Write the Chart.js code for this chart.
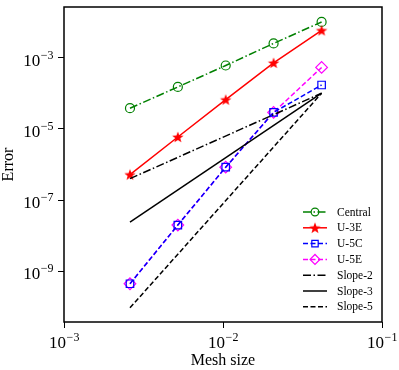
<!DOCTYPE html>
<html>
<head>
<meta charset="utf-8">
<script src="https://cdn.jsdelivr.net/npm/chart.js@4.4.0/dist/chart.umd.min.js"></script>
<style>
  html, body { margin: 0; padding: 0; background: #fff; }
</style>
</head>
<body>
<canvas id="errChart" width="399" height="370"></canvas>
<script>
// values
const meshSize   = [0.0026, 0.0052, 0.0104, 0.0208, 0.0417];
const centralErr = [3.8e-5, 1.5e-4, 6.0e-4, 2.5e-3, 1.0e-2];
const u3eErr     = [5.2e-7, 5.9e-6, 6.6e-5, 7.1e-4, 5.8e-3];
const u5cErr     = [4.5e-10, 2.0e-8, 8.4e-7, 2.9e-5, 1.7e-4];
const u5eErr     = [4.5e-10, 2.0e-8, 8.4e-7, 2.9e-5, 5.3e-4];
const slopeX     = [0.0026, 0.0417];
const slope2     = [4.0e-7, 1.0e-4];
const slope3     = [2.4e-8, 1.0e-4];
const slope5     = [9.5e-11, 1.0e-4];
const xTicks     = [1e-3, 1e-2, 1e-1];
const yTicks     = [1e-9, 1e-7, 1e-5, 1e-3];

const SERIF = '"Liberation Serif", "DejaVu Serif", serif';

// filled five point star marker (matplotlib '*')
function makeStar(color) {
  const c = document.createElement('canvas');
  c.width = 14; c.height = 14;
  const g = c.getContext('2d');
  g.beginPath();
  for (let i = 0; i < 10; i++) {
    const r = i % 2 === 0 ? 6 : 2.5;
    const a = -Math.PI / 2 + i * Math.PI / 5;
    const px = 7 + r * Math.cos(a), py = 7.5 + r * Math.sin(a);
    i === 0 ? g.moveTo(px, py) : g.lineTo(px, py);
  }
  g.closePath();
  g.fillStyle = color;
  g.fill();
  return c;
}
const starImg = makeStar('#ff0000');

const pts = (xs, ys) => xs.map((x, i) => ({ x: x, y: ys[i] }));

// z: higher is drawn on top
const series = [
  { label: 'Central', data: pts(meshSize, centralErr), color: '#008000', dash: [8, 2.5, 1.5, 2.5], marker: 'circle', r: 4.5, z: 1 },
  { label: 'U-3E',    data: pts(meshSize, u3eErr),     color: '#ff0000', dash: [],             marker: starImg,  r: 5,   z: 2 },
  { label: 'U-5C',    data: pts(meshSize, u5cErr),     color: '#0000ff', dash: [5, 2.5],       marker: 'rect',   r: 5.3, z: 4 },
  { label: 'U-5E',    data: pts(meshSize, u5eErr),     color: '#ff00ff', dash: [5, 2.5],       marker: 'rectRot', r: 5.8, z: 3 },
  { label: 'Slope-2', data: pts(slopeX, slope2),       color: '#000000', dash: [8, 2.5, 1.5, 2.5], marker: false, r: 0, z: 5 },
  { label: 'Slope-3', data: pts(slopeX, slope3),       color: '#000000', dash: [],             marker: false,    r: 0,   z: 6 },
  { label: 'Slope-5', data: pts(slopeX, slope5),       color: '#000000', dash: [5, 2.5],       marker: false,    r: 0,   z: 7 }
];

// draws 10^n tick labels, axis titles, frame and the legend
const decorPlugin = {
  id: 'decor',
  afterDraw(chart) {
    const ctx = chart.ctx;
    const area = chart.chartArea;
    const xs = chart.scales.x, ys = chart.scales.y;
    ctx.save();
    ctx.fillStyle = '#000';

    const label = (v) => {
      const exp = Math.round(Math.log10(v));
      return { base: '10', sup: (exp < 0 ? '\u2212' : '') + Math.abs(exp) };
    };
    const measure = (l) => {
      ctx.font = '17px ' + SERIF;
      const wb = ctx.measureText(l.base).width;
      ctx.font = '12px ' + SERIF;
      const ws = ctx.measureText(l.sup).width;
      return [wb, ws];
    };
    const drawLabel = (l, x0, baseY) => {
      const [wb] = measure(l);
      ctx.textAlign = 'left';
      ctx.textBaseline = 'alphabetic';
      ctx.font = '17px ' + SERIF;
      ctx.fillText(l.base, x0, baseY);
      ctx.font = '12px ' + SERIF;
      ctx.fillText(l.sup, x0 + wb + 0.5, baseY - 7);
    };

    xTicks.forEach(v => {
      const l = label(v);
      const [wb, ws] = measure(l);
      const px = xs.getPixelForValue(v);
      drawLabel(l, px - (wb + ws) / 2, area.bottom + 26);
    });
    yTicks.forEach(v => {
      const l = label(v);
      const [wb, ws] = measure(l);
      const py = ys.getPixelForValue(v);
      drawLabel(l, area.left - 11 - wb - ws, py + 8);
    });

    // axis titles
    ctx.font = '16px ' + SERIF;
    ctx.textAlign = 'center';
    ctx.textBaseline = 'alphabetic';
    ctx.fillText('Mesh size', (area.left + area.right) / 2, area.bottom + 43);
    ctx.save();
    ctx.translate(13, (area.top + area.bottom) / 2);
    ctx.rotate(-Math.PI / 2);
    ctx.fillText('Error', 0, 0);
    ctx.restore();

    // frame
    ctx.strokeStyle = '#000';
    ctx.lineWidth = 1.5;
    ctx.strokeRect(area.left, area.top, area.right - area.left, area.bottom - area.top);

    // legend
    const lx0 = area.right - 79, lx1 = area.right - 55, tx = area.right - 45;
    let ly = area.bottom - 110;
    series.forEach(s => {
      ctx.strokeStyle = s.color;
      ctx.lineWidth = 1.5;
      ctx.setLineDash(s.dash);
      ctx.beginPath();
      ctx.moveTo(lx0, ly);
      ctx.lineTo(lx1, ly);
      ctx.stroke();
      ctx.setLineDash([]);
      if (s.marker) {
        ctx.fillStyle = 'rgba(0,0,0,0)';
        ctx.strokeStyle = s.color;
        ctx.lineWidth = 1.2;
        Chart.helpers.drawPoint(ctx, {
          pointStyle: s.marker, radius: s.r * 0.85, borderWidth: 1.2, rotation: 0
        }, (lx0 + lx1) / 2, ly);
      }
      ctx.fillStyle = '#000';
      ctx.font = '11.5px ' + SERIF;
      ctx.textAlign = 'left';
      ctx.textBaseline = 'middle';
      ctx.fillText(s.label, tx, ly + 0.5);
      ly += 15.8;
    });
    ctx.restore();
  }
};

new Chart(document.getElementById('errChart'), {
  type: 'line',
  data: {
    datasets: series.map(s => ({
      label: s.label,
      data: s.data,
      borderColor: s.color,
      borderWidth: 1.5,
      borderDash: s.dash,
      pointStyle: s.marker || 'circle',
      pointRadius: s.r,
      pointBorderColor: s.color,
      pointBackgroundColor: 'rgba(0,0,0,0)',
      pointBorderWidth: 1.2,
      fill: false,
      tension: 0,
      order: 10 - s.z
    }))
  },
  options: {
    responsive: false,
    animation: false,
    layout: { padding: { top: 7, right: 17, left: 0, bottom: 0 } },
    plugins: { legend: { display: false }, tooltip: { enabled: false } },
    scales: {
      x: {
        type: 'logarithmic',
        min: 1e-3,
        max: 1e-1,
        afterBuildTicks: s => { s.ticks = xTicks.map(v => ({ value: v })); },
        afterFit: s => { s.height = 48; },
        ticks: { display: false },
        border: { display: false },
        grid: { drawOnChartArea: false, drawTicks: true, tickLength: 6, color: '#000', lineWidth: 1 }
      },
      y: {
        type: 'logarithmic',
        min: Math.pow(10, -10.42),
        max: Math.pow(10, -1.58),
        afterBuildTicks: s => { s.ticks = yTicks.map(v => ({ value: v })); },
        afterFit: s => { s.width = 64; },
        ticks: { display: false },
        border: { display: false },
        grid: { drawOnChartArea: false, drawTicks: true, tickLength: 6, color: '#000', lineWidth: 1 }
      }
    }
  },
  plugins: [decorPlugin]
});
</script>
</body>
</html>
